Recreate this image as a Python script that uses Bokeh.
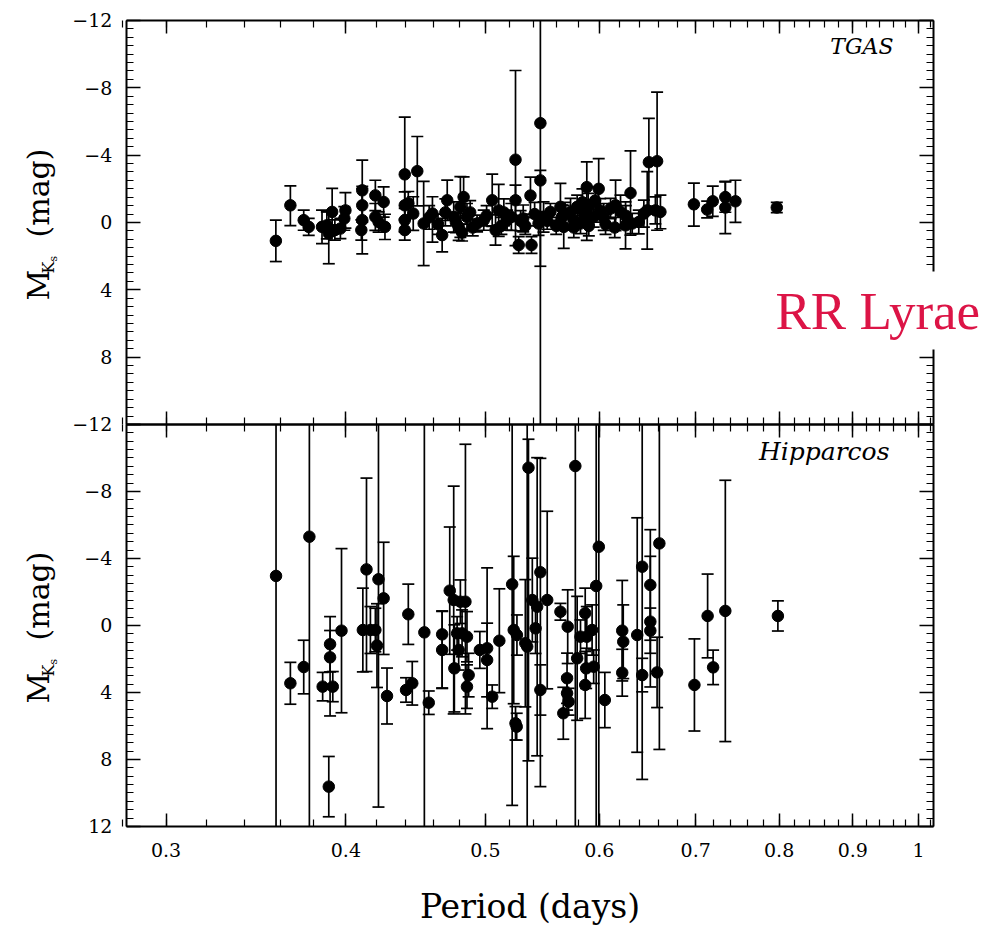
from bokeh.plotting import figure
from bokeh.models import (Range1d, FixedTicker, LinearAxis, LogAxis, Label, ColumnDataSource,
                          PrintfTickFormatter, CustomLabelingPolicy)
from bokeh.embed import file_html
from bokeh.resources import INLINE

# ---------------- data: TGAS panel ----------------
tgas_period = [0.3576, 0.366, 0.3739, 0.3769, 0.385, 0.3892, 0.388, 0.3913, 0.393, 0.3965,
               0.3997, 0.399, 0.4106, 0.4106, 0.4106, 0.41, 0.4193, 0.4193, 0.4215, 0.4249,
               0.4258, 0.4395, 0.4395, 0.4395, 0.4395, 0.442, 0.4484, 0.4455, 0.453, 0.4594,
               0.4666, 0.4704, 0.4753, 0.4791, 0.4804, 0.4829, 0.4855, 0.4817, 0.4934, 0.4987,
               0.5055, 0.5082, 0.5108, 0.5177, 0.5212, 0.5247, 0.5247, 0.5274, 0.5312, 0.5374,
               0.5383, 0.546, 0.546, 0.5488, 0.5444, 0.5548, 0.5638, 0.5652, 0.5668, 0.573,
               0.5757, 0.5791, 0.5822, 0.5853, 0.5881, 0.5881, 0.5894, 0.5946, 0.5994, 0.6008,
               0.6043, 0.6109, 0.6158, 0.6207, 0.6257, 0.6307, 0.6324, 0.6391, 0.6443, 0.6478,
               0.6495, 0.6581, 0.6563, 0.6616, 0.698, 0.713, 0.7194, 0.734, 0.734, 0.746,
               0.797,
               0.457, 0.4635, 0.469, 0.477, 0.488, 0.490, 0.501, 0.513, 0.515, 0.529,
               0.533, 0.541, 0.552, 0.560, 0.568, 0.576, 0.584, 0.590, 0.596, 0.606,
               0.615, 0.626]
tgas_mag = [1.09, -1.02, -0.14, 0.26, 0.26, 0.65, 0.17, -0.63, 0.45, 0.36,
            -0.72, -0.24, -1.91, -1.02, -0.14, 0.45, -1.61, -0.33, -0.03, -1.22,
            0.26, -2.86, -0.14, -1.02, 0.45, -1.14, -3.05, -0.53, 0.06, -0.53,
            0.75, -1.32, -0.33, 0.26, -0.92, -1.51, -0.33, 0.6, 0.06, -0.14,
            -1.32, 0.45, -0.72, -0.14, -0.33, -3.73, -1.32, 1.34, -0.24, -1.6,
            1.34, -5.9, -2.5, -0.33, 0.06, -0.63, -0.93, -0.33, 0.26, -0.63,
            -0.14, -0.93, 0.06, -0.53, -2.1, -0.14, -0.93, -0.33, -2.0, -0.72,
            -0.33, -0.83, -1.02, -0.63, 0.17, -1.75, 0.06, -0.03, -0.53, -0.72,
            -3.58, -3.64, -0.72, -0.63, -1.08, -0.77, -1.26, -1.51, -0.89, -1.26,
            -0.89,
            -0.3, 0.1, -0.6, 0.0, -0.6, 0.3, -0.4, 0.2, -0.6, -0.1,
            0.2, -0.5, -0.1, 0.2, -0.5, 0.3, -1.2, 0.2, -1.3, 0.1,
            0.3, -0.4]
tgas_err_bright = [1.23, 1.15, 0.6, 0.5, 1.0, 1.3, 0.8, 1.4, 0.6, 0.6,
                   1.05, 0.7, 1.8, 1.0, 2.0, 0.6, 0.9, 0.8, 0.6, 0.9,
                   0.75, 3.4, 0.7, 0.8, 0.6, 0.7, 2.06, 1.0, 2.5, 1.0,
                   1.0, 1.2, 0.9, 0.8, 1.8, 1.2, 0.8, 0.5, 0.5, 0.6,
                   1.55, 0.9, 1.55, 0.6, 0.8, 5.3, 0.9, 0.5, 0.8, 1.1,
                   0.5, 8.0, 0.6, 0.9, 0.7, 0.5, 1.4, 0.7, 1.28, 0.8,
                   0.6, 0.7, 0.6, 0.8, 1.5, 1.2, 0.8, 0.6, 1.8, 0.7,
                   0.8, 0.6, 1.5, 1.0, 1.4, 2.5, 0.6, 0.7, 0.8, 2.3,
                   2.6, 4.1, 0.8, 1.0, 1.26, 0.5, 0.9, 0.9, 1.55, 1.25,
                   0.3,
                   0.7, 0.6, 0.8, 0.6, 0.7, 0.5, 0.6, 0.5, 0.8, 0.6,
                   0.5, 0.7, 0.5, 0.5, 0.7, 0.6, 0.8, 0.6, 0.8, 0.6,
                   0.6, 0.6]
tgas_err_faint = [1.23, 1.2, 0.6, 0.5, 1.0, 1.8, 0.8, 1.0, 0.6, 0.6,
                  1.05, 0.7, 1.8, 1.0, 2.0, 0.6, 0.9, 0.8, 0.6, 0.9,
                  0.75, 3.4, 0.7, 0.8, 0.6, 0.7, 2.06, 1.0, 2.5, 1.7,
                  1.0, 1.2, 0.9, 0.8, 1.8, 1.2, 0.8, 0.5, 0.5, 0.6,
                  1.55, 0.9, 1.55, 0.6, 0.8, 5.1, 0.9, 0.5, 0.8, 1.1,
                  0.5, 20.0, 5.1, 0.9, 0.7, 0.5, 1.4, 0.7, 1.28, 0.8,
                  0.6, 0.7, 0.6, 0.8, 1.5, 1.2, 0.8, 0.6, 1.8, 0.7,
                  0.8, 0.6, 1.5, 1.0, 1.4, 2.5, 0.6, 0.7, 0.8, 2.3,
                  2.6, 4.1, 0.8, 1.0, 1.3, 0.5, 0.9, 0.9, 1.55, 1.25,
                  0.3,
                  0.7, 0.6, 0.8, 0.6, 0.7, 0.5, 0.6, 0.5, 0.8, 0.6,
                  0.5, 0.7, 0.5, 0.5, 0.7, 0.6, 0.8, 0.6, 0.8, 0.6,
                  0.6, 0.6]

# ---------------- data: Hipparcos panel ----------------
hip_period = [0.3577, 0.3773, 0.366, 0.3739, 0.3854, 0.3892, 0.390, 0.390, 0.3917, 0.3972,
              0.4134, 0.411, 0.416, 0.4193, 0.4204, 0.4214, 0.4249, 0.4272, 0.442, 0.4404,
              0.4448, 0.4535, 0.4567, 0.4666, 0.4666, 0.4723, 0.4753, 0.4758, 0.4779, 0.4791,
              0.4804, 0.4817, 0.4843, 0.4855, 0.4855, 0.4868, 0.4956, 0.5014, 0.5014, 0.5055,
              0.5113, 0.5219, 0.5232, 0.5259, 0.5247, 0.5257, 0.533, 0.5357, 0.5346, 0.539,
              0.5432, 0.5418, 0.546, 0.546, 0.552, 0.5638, 0.5664, 0.5698, 0.5698, 0.5712,
              0.5704, 0.5774, 0.5791, 0.5822, 0.5866, 0.5881, 0.5866, 0.5875, 0.5931, 0.5946,
              0.597, 0.5995, 0.6053, 0.6224, 0.6234, 0.6224, 0.6375, 0.6426, 0.6426, 0.651,
              0.651, 0.651, 0.6581, 0.6605, 0.6986, 0.7135, 0.7198, 0.734, 0.7984]
hip_mag = [-2.96, -5.3, 3.45, 2.48, 3.65, 9.62, 1.12, 1.9, 3.65, 0.31,
           -3.35, 0.27, 0.27, 0.27, 1.2, -2.76, -1.62, 4.21, -0.67, 3.85,
           3.45, 0.41, 4.61, 0.53, 1.46, -2.08, -1.52, 2.56, 0.47, 1.46,
           -1.42, 0.47, -1.42, 0.67, 3.65, 2.96, 1.46, 1.36, 2.06, 4.25,
           0.91, -2.46, 0.27, 0.57, 5.84, 6.04, 1.06, -9.42, 1.26, -1.52,
           -1.12, 0.17, -3.18, 3.85, -1.52, -0.82, 5.24, 3.15, 4.05, 4.55,
           0.07, -9.52, 1.96, 0.67, -0.73, 0.67, 3.55, 2.56, 0.27, 2.46,
           -2.36, -4.7, 4.45, 0.31, 0.97, 2.82, 0.57, -3.51, 2.96, -2.42,
           -0.23, 0.31, 2.8, -4.9, 3.55, -0.57, 2.5, -0.87, -0.57]
hip_err_bright = [30, 30, 1.25, 1.6, 0.85, 1.8, 1.65, 1.6, 0.9, 4.9,
                  5.45, 2.5, 1.4, 1.3, 2.5, 30, 3.35, 1.67, 1.8, 0.73,
                  1.3, 30, 0.7, 1.4, 2.3, 3.8, 6.8, 2.6, 1.0, 1.2,
                  1.3, 1.4, 9.4, 1.5, 1.3, 1.3, 1.1, 4.8, 2.2, 0.7,
                  3.1, 30, 4.4, 1.2, 1.0, 0.8, 3.8, 1.7, 30, 2.5,
                  8.9, 1.5, 6.8, 1.5, 5.3, 0.5, 1.55, 1.5, 1.0, 0.8,
                  2.2, 30, 3.7, 1.0, 1.5, 1.8, 2.0, 1.2, 1.5, 1.0,
                  30, 30, 1.65, 3.0, 2.2, 1.4, 7.0, 30, 1.0, 3.3,
                  3.9, 1.35, 2.1, 30, 2.75, 2.5, 1.03, 7.8, 0.9]
hip_err_faint = [30, 30, 1.25, 1.6, 0.85, 1.8, 1.65, 3.5, 0.9, 4.9,
                 6.1, 2.5, 1.4, 1.3, 2.5, 13.6, 3.35, 1.67, 1.8, 0.73,
                 1.3, 30, 0.7, 3.2, 2.3, 3.8, 6.8, 2.6, 1.0, 1.2,
                 1.3, 1.4, 6.7, 1.5, 1.3, 1.3, 1.1, 4.8, 2.2, 0.7,
                 3.1, 13.2, 4.4, 1.2, 1.0, 0.8, 3.8, 17.5, 30, 2.5,
                 8.9, 1.5, 12.8, 1.5, 5.3, 0.5, 1.55, 1.5, 1.0, 0.8,
                 2.2, 30, 3.7, 1.0, 1.5, 1.8, 2.0, 1.2, 1.5, 1.0,
                 30, 30, 1.65, 3.0, 2.2, 1.4, 7.0, 12.7, 1.0, 3.3,
                 3.9, 1.35, 2.1, 12.3, 2.75, 2.5, 1.03, 7.8, 0.9]

# ---------------- ticks / limits ----------------
x_major = [0.3, 0.4, 0.5, 0.6, 0.7, 0.8, 0.9, 1.0]
x_minor = [round(0.28 + 0.02 * i, 2) for i in range(38)]
y_major = [-12, -8, -4, 0, 4, 8, 12]
y_minor = [-12 + 0.5 * i for i in range(49)]
P_MIN, P_MAX = 0.28153, 1.02426      # panel x limits
M_MIN, M_MAX = -12, 12               # panel y limits (reversed axis)

FONT = "DejaVu Serif"
W, H = 996, 928

# one canvas-wide frame; each panel has its own y range
p = figure(width=W, height=H, x_axis_type="log",
           x_range=Range1d(0.23018, 1.13271),
           y_range=Range1d(41.941, -13.188),          # TGAS panel scale
           output_backend="svg", toolbar_location=None,
           x_axis_location=None, y_axis_location=None,
           min_border_left=0, min_border_right=0, min_border_top=0, min_border_bottom=0)
p.extra_y_ranges = {"hip": Range1d(18.090, -37.313)}  # Hipparcos panel scale
p.grid.visible = False
p.outline_line_color = None
p.background_fill_color = "white"
p.border_fill_color = "white"

xt = FixedTicker(ticks=x_major, minor_ticks=x_minor)
yt = FixedTicker(ticks=y_major, minor_ticks=y_minor)


def style_axis(ax, labels=False, major=13, minor=7):
    ax.major_tick_in = major
    ax.major_tick_out = 0
    ax.minor_tick_in = minor
    ax.minor_tick_out = 0
    ax.axis_line_width = 2
    ax.major_tick_line_width = 1.5
    ax.minor_tick_line_width = 1.2
    ax.axis_line_color = "black"
    ax.major_tick_line_color = "black"
    ax.minor_tick_line_color = "black"
    ax.axis_label = None
    ax.major_label_text_font = FONT
    ax.major_label_text_font_size = "19px"
    ax.major_label_text_color = "black"
    if not labels:
        # tick marks only: draw no tick labels at all
        ax.major_label_policy = CustomLabelingPolicy(code="return new Set()")
        ax.major_label_standoff = 0
    return ax


for rname in ("default", "hip"):
    # left axis with labels
    la = style_axis(LinearAxis(ticker=yt, y_range_name=rname, fixed_location=P_MIN,
                               bounds=(M_MIN, M_MAX)), labels=True, major=14)
    la.major_label_standoff = 14
    if rname == "default":
        la.major_label_overrides = {12: ""}
    p.add_layout(la, "left")
    # right axis
    ra = style_axis(LinearAxis(ticker=yt, y_range_name=rname, fixed_location=P_MAX,
                               bounds=(M_MIN, M_MAX)), major=14)
    p.add_layout(ra, "right")
    # top edge of panel (ticks pointing down)
    ta = style_axis(LogAxis(ticker=xt, y_range_name=rname, fixed_location=M_MIN,
                            bounds=(P_MIN, P_MAX)))
    p.add_layout(ta, "above")
    # bottom edge of panel (ticks pointing up)
    ba = style_axis(LogAxis(ticker=xt, y_range_name=rname, fixed_location=M_MAX,
                            bounds=(P_MIN, P_MAX)), labels=(rname == "hip"))
    if rname == "hip":
        ba.formatter = PrintfTickFormatter(format="%g")
        ba.major_label_standoff = 17
        ba.axis_label = "Period (days)"
        ba.axis_label_text_font = FONT
        ba.axis_label_text_font_size = "33px"
        ba.axis_label_text_font_style = "normal"
        ba.axis_label_text_color = "black"
        ba.axis_label_standoff = 26
    p.add_layout(ba, "below")


def draw_panel(period, mag, eb, ef, rname):
    bright = [max(m - e, M_MIN) for m, e in zip(mag, eb)]
    faint = [min(m + e, M_MAX) for m, e in zip(mag, ef)]
    src = ColumnDataSource(dict(P=period, M=mag, bright=bright, faint=faint))
    cap_b = ColumnDataSource(dict(P=[x for x, m, e in zip(period, mag, eb) if m - e > M_MIN],
                                  y=[m - e for m, e in zip(mag, eb) if m - e > M_MIN]))
    cap_f = ColumnDataSource(dict(P=[x for x, m, e in zip(period, mag, ef) if m + e < M_MAX],
                                  y=[m + e for m, e in zip(mag, ef) if m + e < M_MAX]))
    p.segment(x0="P", y0="bright", x1="P", y1="faint", source=src, y_range_name=rname,
              line_color="black", line_width=1.7)
    for cs in (cap_b, cap_f):
        p.scatter(x="P", y="y", source=cs, marker="dash", size=12, y_range_name=rname,
                  line_color="black", line_width=1.7)
    p.scatter(x="P", y="M", source=src, size=11.5, fill_color="black",
              line_color="black", y_range_name=rname)


draw_panel(tgas_period, tgas_mag, tgas_err_bright, tgas_err_faint, "default")
draw_panel(hip_period, hip_mag, hip_err_bright, hip_err_faint, "hip")

# y-axis titles  M_Ks (mag), one per panel (screen units from frame bottom-left)
common = dict(x_units="screen", y_units="screen", angle=90, angle_units="deg",
              text_font=FONT, text_color="black", text_align="left",
              text_baseline="alphabetic")
for dy in (0, -403):
    p.add_layout(Label(x=38, y=628 + dy, text="M", text_font_size="30px", **common))
    p.add_layout(Label(x=48, y=655 + dy, text="K", text_font_size="16px", **common))
    p.add_layout(Label(x=53, y=667 + dy, text="s", text_font_size="11px", **common))
    p.add_layout(Label(x=38, y=691 + dy, text="(mag)", text_font_size="30px", **common))

p.add_layout(Label(x=893, y=895, x_units="screen", y_units="screen", text="TGAS",
                   text_font=FONT, text_font_style="italic", text_font_size="22px",
                   text_align="right", text_baseline="top", text_color="black"))
p.add_layout(Label(x=889, y=492, x_units="screen", y_units="screen", text="Hipparcos",
                   text_font=FONT, text_font_style="italic", text_font_size="25px",
                   text_align="right", text_baseline="top", text_color="black"))
p.add_layout(Label(x=765, y=618, x_units="screen", y_units="screen", text="RR Lyrae",
                   text_font="Liberation Serif", text_font_size="53px",
                   text_color="#DC1446", text_align="left", text_baseline="alphabetic",
                   background_fill_color="white", padding=10))

open("out.html", "w").write(file_html(p, INLINE))
